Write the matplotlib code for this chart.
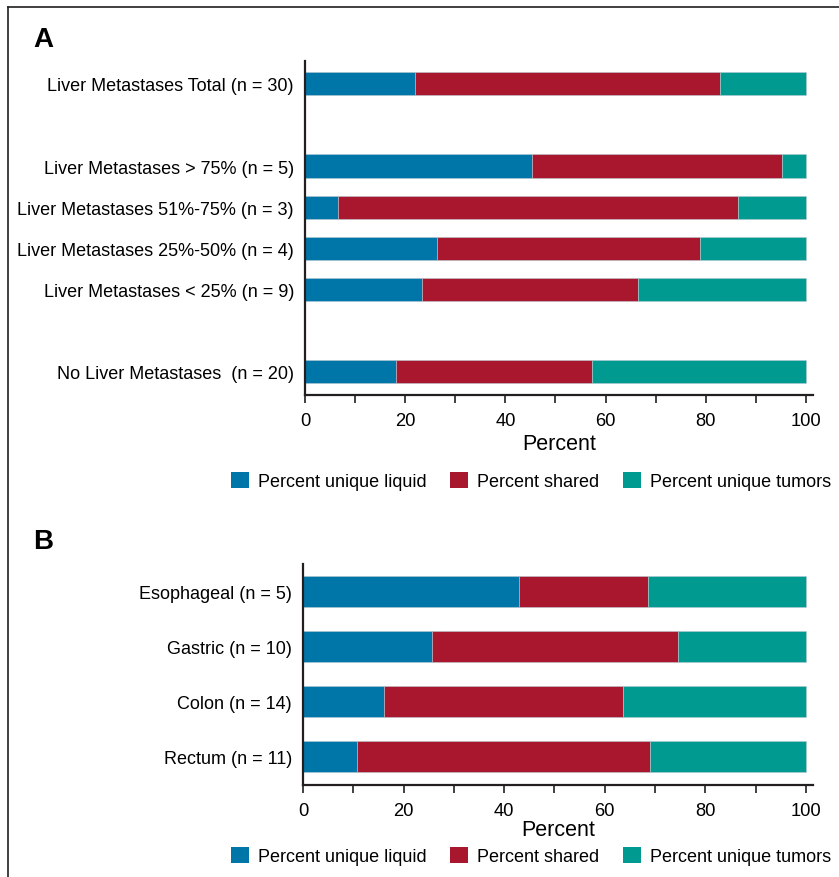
import matplotlib
matplotlib.use("Agg")
import matplotlib.pyplot as plt
from matplotlib.lines import Line2D
from matplotlib.patches import Patch

plt.rcParams['font.family'] = ['Liberation Sans', 'DejaVu Sans']

# panel A: liver metastasis burden
labels_a = ["Liver Metastases Total (n = 30)",
            "Liver Metastases > 75% (n = 5)",
            "Liver Metastases 51%-75% (n = 3)",
            "Liver Metastases 25%-50% (n = 4)",
            "Liver Metastases < 25% (n = 9)",
            "No Liver Metastases  (n = 20)"]
pos_a = [0, 2, 3, 4, 5, 7]
liquid_a = [22.0, 45.4, 6.6, 26.3, 23.3, 18.1]
shared_a = [60.9, 49.9, 79.9, 52.5, 43.2, 39.2]
tumor_a = [17.1, 4.7, 13.5, 21.2, 33.5, 42.7]

# panel B: primary tumour site
labels_b = ["Esophageal (n = 5)", "Gastric (n = 10)",
            "Colon (n = 14)", "Rectum (n = 11)"]
pos_b = [0, 1, 2, 3]
liquid_b = [42.9, 25.6, 16.1, 10.7]
shared_b = [25.7, 48.9, 47.5, 58.3]
tumor_b = [31.4, 25.5, 36.4, 31.0]

series_names = ["Percent unique liquid", "Percent shared", "Percent unique tumors"]
colors = ["#0076a8", "#a8172e", "#009a90"]
axis_col = "#231f20"

fig = plt.figure(figsize=(8.39, 8.78), dpi=100)

# frame lines along the left and top edge
fig.add_artist(Line2D([8/839, 8/839], [0, 1 - 8/878], transform=fig.transFigure,
                      color=axis_col, lw=1.2))
fig.add_artist(Line2D([8/839, 1], [1 - 8/878, 1 - 8/878], transform=fig.transFigure,
                      color=axis_col, lw=1.2))


def draw_panel(ax, pos, labels, liquid, shared, tumor, ylim):
    left = [0] * len(pos)
    for vals, c in zip([liquid, shared, tumor], colors):
        ax.barh(pos, vals, left=left, height=0.56, color=c,
                edgecolor="#b8c8d0", linewidth=0.4)
        left = [l + v for l, v in zip(left, vals)]
    ax.set_xlim(0, 101.4)
    ax.set_ylim(*ylim)
    ax.set_yticks(pos)
    ax.set_yticklabels(labels, fontsize=13.0)
    ax.tick_params(axis="y", length=0, pad=8)
    ax.set_xticks(range(0, 101, 20))
    ax.set_xticks(range(10, 100, 20), minor=True)
    ax.tick_params(axis="x", which="both", direction="out", length=6,
                   width=1.2, color=axis_col, labelsize=13.2, pad=6)
    for s in ["top", "right"]:
        ax.spines[s].set_visible(False)
    for s in ["left", "bottom"]:
        ax.spines[s].set_linewidth(1.6)
        ax.spines[s].set_color(axis_col)
    ax.set_xlabel("Percent", fontsize=15.5, labelpad=3)


handles = [Patch(facecolor=c, edgecolor="none") for c in colors]
legend_kw = dict(loc="center", ncol=3, frameon=False, fontsize=13, handlelength=1.0,
                 handleheight=1.0, handletextpad=0.5, columnspacing=1.3)

ax_a = fig.add_axes([305/839, 1 - 396/878, 508/839, 334/878])
draw_panel(ax_a, pos_a, labels_a, liquid_a, shared_a, tumor_a, (7.56, -0.55))
fig.legend(handles, series_names, bbox_to_anchor=(531/839, 1 - 482/878), **legend_kw)
fig.text(33/839, 1 - 40/878, "A", fontsize=20, fontweight="bold", va="center")

ax_b = fig.add_axes([303/839, 1 - 786/878, 510/839, 221/878])
draw_panel(ax_b, pos_b, labels_b, liquid_b, shared_b, tumor_b, (3.52, -0.5))
ax_b.xaxis.labelpad = 0
fig.legend(handles, series_names, bbox_to_anchor=(531/839, 1 - 857/878), **legend_kw)
fig.text(33/839, 1 - 542/878, "B", fontsize=20, fontweight="bold", va="center")

fig.savefig("out.png", dpi=100)
